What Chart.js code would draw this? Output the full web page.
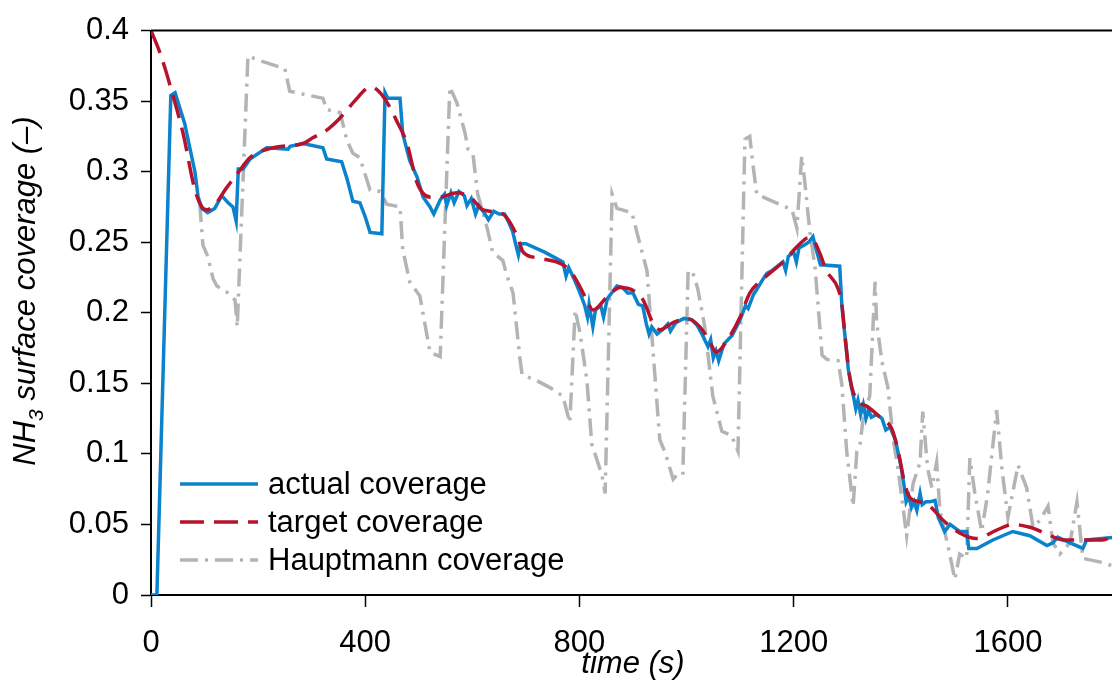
<!DOCTYPE html>
<html>
<head>
<meta charset="utf-8">
<script src="https://cdn.jsdelivr.net/npm/chart.js@4/dist/chart.umd.min.js"></script>
<style>
  html, body { margin: 0; padding: 0; background: #fff; overflow: hidden; }
  #wrap { width: 1112px; height: 688px; overflow: hidden; }
</style>
</head>
<body>
<div id="wrap"><canvas id="chart" width="1115" height="688"></canvas></div>
<script>
// values
const targetT = [0, 17, 41, 60, 82, 95, 104, 120, 140, 166, 185, 228, 284, 302, 330, 353, 380, 403, 412, 425, 441, 460, 478, 497, 521, 540, 571, 596, 620, 657, 683, 695, 720, 769, 788, 814, 825, 851, 876, 900, 919, 937, 950, 975, 1000, 1025, 1044, 1055, 1075, 1100, 1118, 1143, 1180, 1212, 1227, 1236, 1249, 1261, 1283, 1290, 1296, 1305, 1318, 1336, 1367, 1383, 1395, 1408, 1417, 1436, 1454, 1479, 1510, 1542, 1579, 1609, 1641, 1669, 1703, 1740, 1777, 1800];
const targetV = [0.400, 0.384, 0.354, 0.327, 0.287, 0.275, 0.273, 0.277, 0.288, 0.301, 0.310, 0.317, 0.320, 0.324, 0.330, 0.338, 0.350, 0.359, 0.360, 0.357, 0.349, 0.335, 0.320, 0.292, 0.282, 0.282, 0.285, 0.282, 0.273, 0.270, 0.255, 0.243, 0.239, 0.234, 0.227, 0.209, 0.202, 0.211, 0.218, 0.216, 0.209, 0.193, 0.188, 0.193, 0.196, 0.190, 0.179, 0.172, 0.180, 0.197, 0.214, 0.224, 0.236, 0.249, 0.253, 0.252, 0.242, 0.230, 0.217, 0.206, 0.183, 0.154, 0.138, 0.134, 0.124, 0.118, 0.102, 0.078, 0.069, 0.066, 0.063, 0.053, 0.044, 0.040, 0.046, 0.050, 0.048, 0.044, 0.039, 0.039, 0.039, 0.043];

const actualT = [0, 11, 37, 45, 54, 63, 73, 82, 88, 95, 106, 119, 132, 144, 153, 159, 163, 172, 185, 216, 256, 260, 284, 321, 328, 356, 366, 377, 390, 400, 409, 431, 437, 442, 465, 470, 483, 497, 508, 521, 528, 540, 548, 552, 560, 566, 575, 585, 590, 598, 606, 612, 622, 630, 640, 650, 660, 668, 675, 682, 686, 690, 700, 735, 769, 775, 780, 790, 800, 810, 815, 818, 825, 830, 840, 845, 852, 860, 870, 880, 890, 900, 910, 918, 925, 930, 935, 945, 955, 965, 970, 980, 995, 1010, 1020, 1030, 1040, 1045, 1050, 1055, 1060, 1070, 1085, 1100, 1110, 1115, 1125, 1135, 1143, 1150, 1160, 1170, 1180, 1185, 1190, 1200, 1205, 1210, 1220, 1228, 1236, 1242, 1250, 1286, 1290, 1296, 1302, 1308, 1312, 1316, 1320, 1325, 1330, 1335, 1340, 1345, 1355, 1365, 1372, 1380, 1390, 1400, 1406, 1410, 1415, 1420, 1425, 1430, 1436, 1440, 1447, 1454, 1464, 1470, 1482, 1492, 1510, 1523, 1527, 1542, 1572, 1609, 1641, 1673, 1684, 1693, 1716, 1740, 1747, 1800];
const actualV = [0, 0, 0.354, 0.356, 0.345, 0.334, 0.316, 0.300, 0.282, 0.274, 0.271, 0.274, 0.283, 0.278, 0.275, 0.265, 0.302, 0.302, 0.309, 0.317, 0.316, 0.318, 0.320, 0.317, 0.309, 0.307, 0.295, 0.279, 0.278, 0.268, 0.257, 0.256, 0.356, 0.352, 0.352, 0.327, 0.308, 0.296, 0.282, 0.275, 0.270, 0.280, 0.284, 0.276, 0.285, 0.278, 0.286, 0.283, 0.276, 0.281, 0.270, 0.276, 0.271, 0.266, 0.272, 0.270, 0.270, 0.264, 0.258, 0.247, 0.241, 0.249, 0.249, 0.243, 0.236, 0.226, 0.232, 0.224, 0.215, 0.205, 0.197, 0.206, 0.190, 0.202, 0.205, 0.197, 0.210, 0.214, 0.219, 0.218, 0.214, 0.214, 0.206, 0.205, 0.192, 0.185, 0.190, 0.185, 0.188, 0.192, 0.187, 0.193, 0.196, 0.195, 0.191, 0.184, 0.176, 0.181, 0.168, 0.173, 0.166, 0.178, 0.184, 0.195, 0.205, 0.203, 0.213, 0.219, 0.224, 0.228, 0.230, 0.233, 0.236, 0.230, 0.240, 0.243, 0.236, 0.246, 0.248, 0.250, 0.254, 0.245, 0.234, 0.233, 0.205, 0.183, 0.160, 0.147, 0.140, 0.132, 0.138, 0.128, 0.135, 0.125, 0.131, 0.126, 0.128, 0.125, 0.117, 0.119, 0.110, 0.092, 0.078, 0.066, 0.070, 0.062, 0.066, 0.060, 0.072, 0.064, 0.066, 0.066, 0.067, 0.055, 0.045, 0.050, 0.045, 0.045, 0.033, 0.033, 0.039, 0.045, 0.042, 0.035, 0.037, 0.041, 0.037, 0.033, 0.039, 0.041];

const hauptT = [91, 97, 106, 116, 123, 144, 157, 161, 181, 209, 250, 259, 321, 328, 353, 366, 377, 390, 409, 428, 440, 465, 470, 483, 502, 521, 540, 558, 571, 586, 592, 601, 610, 627, 638, 657, 664, 676, 689, 693, 720, 745, 769, 782, 792, 801, 814, 823, 842, 848, 861, 870, 898, 910, 926, 950, 960, 975, 982, 993, 1003, 1012, 1021, 1034, 1049, 1066, 1084, 1096, 1109, 1118, 1124, 1131, 1161, 1197, 1206, 1215, 1221, 1230, 1240, 1253, 1262, 1283, 1290, 1299, 1311, 1318, 1324, 1330, 1342, 1352, 1355, 1365, 1376, 1386, 1395, 1411, 1423, 1436, 1441, 1450, 1458, 1467, 1473, 1488, 1501, 1510, 1523, 1529, 1538, 1551, 1562, 1579, 1589, 1600, 1619, 1635, 1647, 1660, 1675, 1684, 1697, 1716, 1729, 1740, 1777, 1800];
const hauptV = [0.277, 0.248, 0.240, 0.224, 0.219, 0.214, 0.209, 0.190, 0.382, 0.378, 0.373, 0.357, 0.352, 0.344, 0.342, 0.322, 0.313, 0.310, 0.287, 0.286, 0.277, 0.275, 0.245, 0.222, 0.212, 0.172, 0.169, 0.360, 0.349, 0.328, 0.316, 0.313, 0.284, 0.261, 0.243, 0.237, 0.227, 0.214, 0.167, 0.156, 0.152, 0.147, 0.141, 0.122, 0.202, 0.186, 0.152, 0.107, 0.085, 0.072, 0.284, 0.274, 0.271, 0.253, 0.230, 0.110, 0.101, 0.082, 0.085, 0.085, 0.230, 0.228, 0.217, 0.190, 0.141, 0.116, 0.113, 0.102, 0.323, 0.325, 0.305, 0.284, 0.279, 0.273, 0.260, 0.311, 0.292, 0.258, 0.232, 0.170, 0.167, 0.166, 0.149, 0.102, 0.063, 0.102, 0.107, 0.126, 0.141, 0.222, 0.193, 0.165, 0.147, 0.110, 0.089, 0.042, 0.079, 0.094, 0.130, 0.090, 0.076, 0.094, 0.060, 0.035, 0.011, 0.029, 0.026, 0.097, 0.073, 0.045, 0.071, 0.131, 0.089, 0.055, 0.092, 0.076, 0.048, 0.053, 0.063, 0.037, 0.029, 0.037, 0.066, 0.026, 0.023, 0.020];

const legendLabels = ["actual coverage", "target coverage", "Hauptmann coverage"];
const xTicks = [0, 400, 800, 1200, 1600];
const xTickLabels = ["0", "400", "800", "1200", "1600"];
const yTicks = [0, 0.05, 0.1, 0.15, 0.2, 0.25, 0.3, 0.35, 0.4];
const yTickLabels = ["0", "0.05", "0.1", "0.15", "0.2", "0.25", "0.3", "0.35", "0.4"];

const FONT = '"Liberation Sans", Arial, Helvetica, sans-serif';
const FS = 31;
const BLUE = "#0a83cc";
const RED = "#b8132d";
const GRAY = "#b4b4b4";
const RED_DASH = [24, 10];
const GRAY_DASH = [18, 7, 3, 7];

function pts(ts, vs) {
  return ts.map((t, i) => ({ x: t, y: vs[i] }));
}

const extras = {
  id: "extras",
  afterDatasetsDraw(chart) {
    const { ctx, chartArea } = chart;
    ctx.save();
    // top frame line
    ctx.strokeStyle = "#000";
    ctx.lineWidth = 2;
    ctx.beginPath();
    ctx.moveTo(chartArea.left, chartArea.top);
    ctx.lineTo(chart.width, chartArea.top);
    ctx.stroke();

    // legend inside the plot
    const styles = [
      { color: BLUE, dash: [], width: 3.5 },
      { color: RED, dash: RED_DASH, width: 3.5 },
      { color: GRAY, dash: GRAY_DASH, width: 3.5 }
    ];
    const rows = [484, 522, 560];
    ctx.font = FS + "px " + FONT;
    ctx.textBaseline = "middle";
    ctx.textAlign = "left";
    legendLabels.forEach((lab, i) => {
      const s = styles[i];
      ctx.strokeStyle = s.color;
      ctx.lineWidth = s.width;
      ctx.setLineDash(s.dash);
      ctx.beginPath();
      ctx.moveTo(180, rows[i]);
      ctx.lineTo(258, rows[i]);
      ctx.stroke();
      ctx.setLineDash([]);
      ctx.fillStyle = "#000";
      ctx.fillText(lab, 268, rows[i] + 1);
    });

    // y axis title with subscript
    ctx.translate(35, 291);
    ctx.rotate(-Math.PI / 2);
    ctx.textBaseline = "alphabetic";
    const big = "italic " + FS + "px " + FONT;
    const small = "italic 21px " + FONT;
    const rest = " surface coverage (\u2013)";
    ctx.font = big;
    const w1 = ctx.measureText("NH").width;
    const w3 = ctx.measureText(rest).width;
    ctx.font = small;
    const w2 = ctx.measureText("3").width;
    let sx = -(w1 + w2 + w3) / 2;
    ctx.fillStyle = "#000";
    ctx.font = big;
    ctx.fillText("NH", sx, 0);
    ctx.font = small;
    ctx.fillText("3", sx + w1, 8);
    ctx.font = big;
    ctx.fillText(rest, sx + w1 + w2, 0);
    ctx.restore();
  }
};

new Chart(document.getElementById("chart"), {
  type: "line",
  data: {
    datasets: [
      {
        label: legendLabels[1], data: pts(targetT, targetV),
        borderColor: RED, borderWidth: 3.5, borderDash: RED_DASH,
        cubicInterpolationMode: "monotone", pointRadius: 0, order: 0
      },
      {
        label: legendLabels[0], data: pts(actualT, actualV),
        borderColor: BLUE, borderWidth: 3.5, tension: 0, pointRadius: 0, order: 1
      },
      {
        label: legendLabels[2], data: pts(hauptT, hauptV),
        borderColor: GRAY, borderWidth: 3.5, borderDash: GRAY_DASH,
        tension: 0, pointRadius: 0, order: 2
      }
    ]
  },
  options: {
    responsive: false,
    animation: false,
    events: [],
    layout: { padding: { top: 17, left: 0, right: 0, bottom: 0 } },
    plugins: { legend: { display: false }, tooltip: { enabled: false } },
    scales: {
      x: {
        type: "linear", min: 0, max: 1800,
        afterFit: s => { s.height = 93; },
        afterBuildTicks: s => { s.ticks = xTicks.map(v => ({ value: v })); },
        ticks: { font: { size: FS, family: FONT }, color: "#000", padding: 18, maxRotation: 0,
                 callback: (v, i) => xTickLabels[i] },
        grid: { drawOnChartArea: false, drawTicks: true, tickLength: 12, tickColor: "#000", tickWidth: 1.5 },
        border: { color: "#000", width: 2 },
        title: { display: true, text: "time (s)", color: "#000",
                 font: { size: FS, family: FONT, style: "italic" }, padding: { top: 0, bottom: 5 } }
      },
      y: {
        min: 0, max: 0.4,
        afterFit: s => { s.width = 151; },
        afterBuildTicks: s => { s.ticks = yTicks.map(v => ({ value: v })); },
        ticks: { font: { size: FS, family: FONT }, color: "#000", padding: 12,
                 callback: (v, i) => yTickLabels[i] },
        grid: { drawOnChartArea: false, drawTicks: true, tickLength: 10, tickColor: "#000", tickWidth: 1.5 },
        border: { color: "#000", width: 2 }
      }
    }
  },
  plugins: [extras]
});
</script>
</body>
</html>
